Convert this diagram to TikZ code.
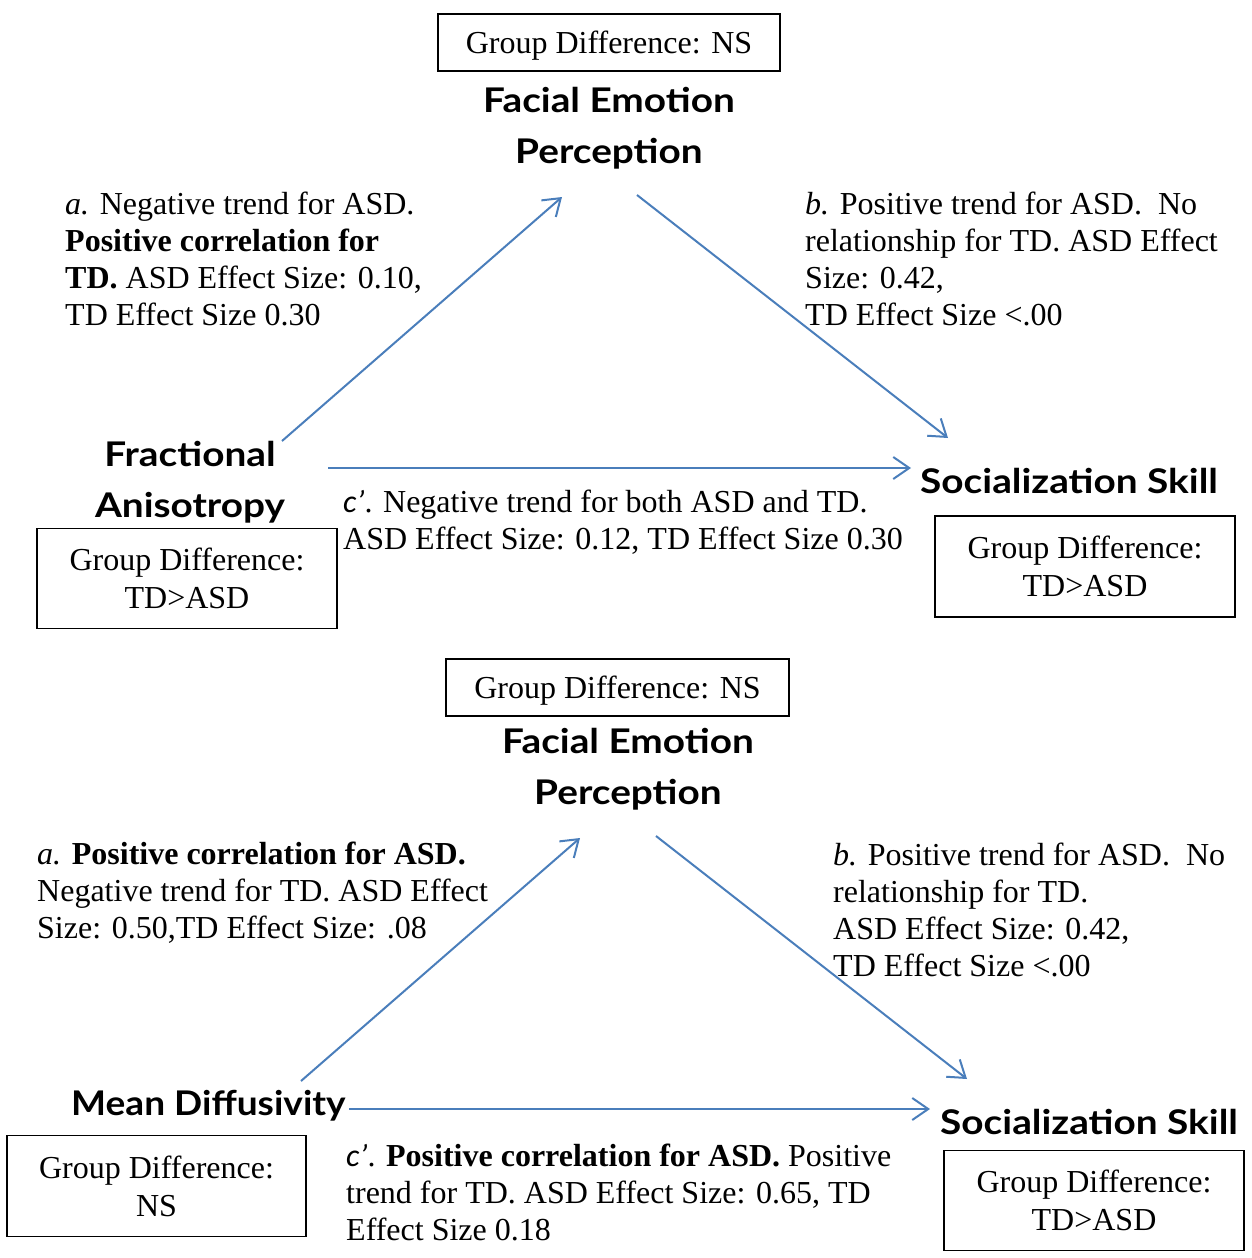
\documentclass[tikz,border=0pt]{standalone}
\usepackage{fontspec}
\setmainfont{Liberation Serif}
\newfontfamily\headfont{Lato}[FakeStretch=1.14]
\newfontfamily\headfontn{Lato}[FakeStretch=1.09]
\newfontfamily\cfont{Carlito}
\usetikzlibrary{arrows.meta}
\definecolor{arrowblue}{HTML}{4A7EBB}
\newcommand{\cpr}{{\cfont\itshape c’}}
\begin{document}
\begin{tikzpicture}[x=1pt,y=-1pt,
  body/.style={anchor=north west, inner sep=0pt, align=left, font=\fontsize{32}{37}\selectfont},
  head/.style={inner sep=0pt, align=center, font=\headfont\bfseries\fontsize{34}{51}\selectfont},
  gbox/.style={draw, line width=1.6pt, align=center, inner sep=0pt, font=\fontsize{32}{38}\selectfont},
  arr/.style={draw=arrowblue, line width=2pt, -{Straight Barb[length=16pt,width=22pt]}}]
\useasboundingbox (0,0) rectangle (1251,1258);

% ---------- top panel ----------
\node[gbox, text depth=0pt, minimum width=342pt, minimum height=57pt] (nsT) at (609,42.5) {Group Difference: NS};
\node[head, anchor=north] (fepT) at (609,76.3) {\strut Facial Emotion\\Perception};
\node[head, anchor=north] (fa) at (190,430.3) {\strut Fractional\\Anisotropy};
\node[head, anchor=base west] (ssT) at (920,493) {Socialization Skill};
\node[gbox, minimum width=300pt, minimum height=100pt] (faBox) at (187,578.5) {Group Difference:\\TD>ASD};
\node[gbox, minimum width=300pt, minimum height=101pt] (ssBoxT) at (1085,566.5) {Group Difference:\\TD>ASD};

\node[body] (aT) at (65,188.1) {\strut\textit{a.} Negative trend for ASD.\\\textbf{Positive correlation for}\\\textbf{TD.} ASD Effect Size: 0.10,\\TD Effect Size 0.30};
\node[body] (bT) at (805,188.1) {\strut\textit{b.} Positive trend for ASD.\ \ No\\relationship for TD. ASD Effect\\Size: 0.42,\\TD Effect Size <.00};
\node[body] (cT) at (343,486.1) {\strut\cpr. Negative trend for both ASD and TD.\\ASD Effect Size: 0.12, TD Effect Size 0.30};

\coordinate (aTs) at (282,441);
\coordinate (aTe) at (562,197);
\coordinate (bTs) at (637,195);
\coordinate (bTe) at (948,438);
\coordinate (cTs) at (328,468);
\coordinate (cTe) at (911,468);
\draw[arr] (aTs) -- (aTe);
\draw[arr] (bTs) -- (bTe);
\draw[arr] (cTs) -- (cTe);

% ---------- bottom panel ----------
\node[gbox, text depth=0pt, minimum width=343pt, minimum height=57pt] (nsB) at (617.5,687.5) {Group Difference: NS};
\node[head, anchor=north] (fepB) at (628,717.3) {\strut Facial Emotion\\Perception};
\node[head, font=\headfontn\bfseries\fontsize{34}{51}\selectfont, anchor=base west] (md) at (71,1115) {Mean Diffusivity};
\node[head, anchor=base west] (ssB) at (940,1134) {Socialization Skill};
\node[gbox, minimum width=299pt, minimum height=101pt] (mdBox) at (156.5,1186) {Group Difference:\\NS};
\node[gbox, minimum width=300pt, minimum height=100pt] (ssBoxB) at (1094,1200.5) {Group Difference:\\TD>ASD};

\node[body] (aB) at (37,838.1) {\strut\textit{a.} \textbf{Positive correlation for ASD.}\\Negative trend for TD. ASD Effect\\Size: 0.50,TD Effect Size: .08};
\node[body] (bB) at (833,839.1) {\strut\textit{b.} Positive trend for ASD.\ \ No\\relationship for TD.\\ASD Effect Size: 0.42,\\TD Effect Size <.00};
\node[body] (cB) at (346,1140.1) {\strut\cpr. \textbf{Positive correlation for ASD.} Positive\\trend for TD. ASD Effect Size: 0.65, TD\\Effect Size 0.18};

\coordinate (aBs) at (301,1081);
\coordinate (aBe) at (580,838);
\coordinate (bBs) at (656,836);
\coordinate (bBe) at (967,1079);
\coordinate (cBs) at (349,1109);
\coordinate (cBe) at (930,1109);
\draw[arr] (aBs) -- (aBe);
\draw[arr] (bBs) -- (bBe);
\draw[arr] (cBs) -- (cBe);
\end{tikzpicture}
\end{document}
